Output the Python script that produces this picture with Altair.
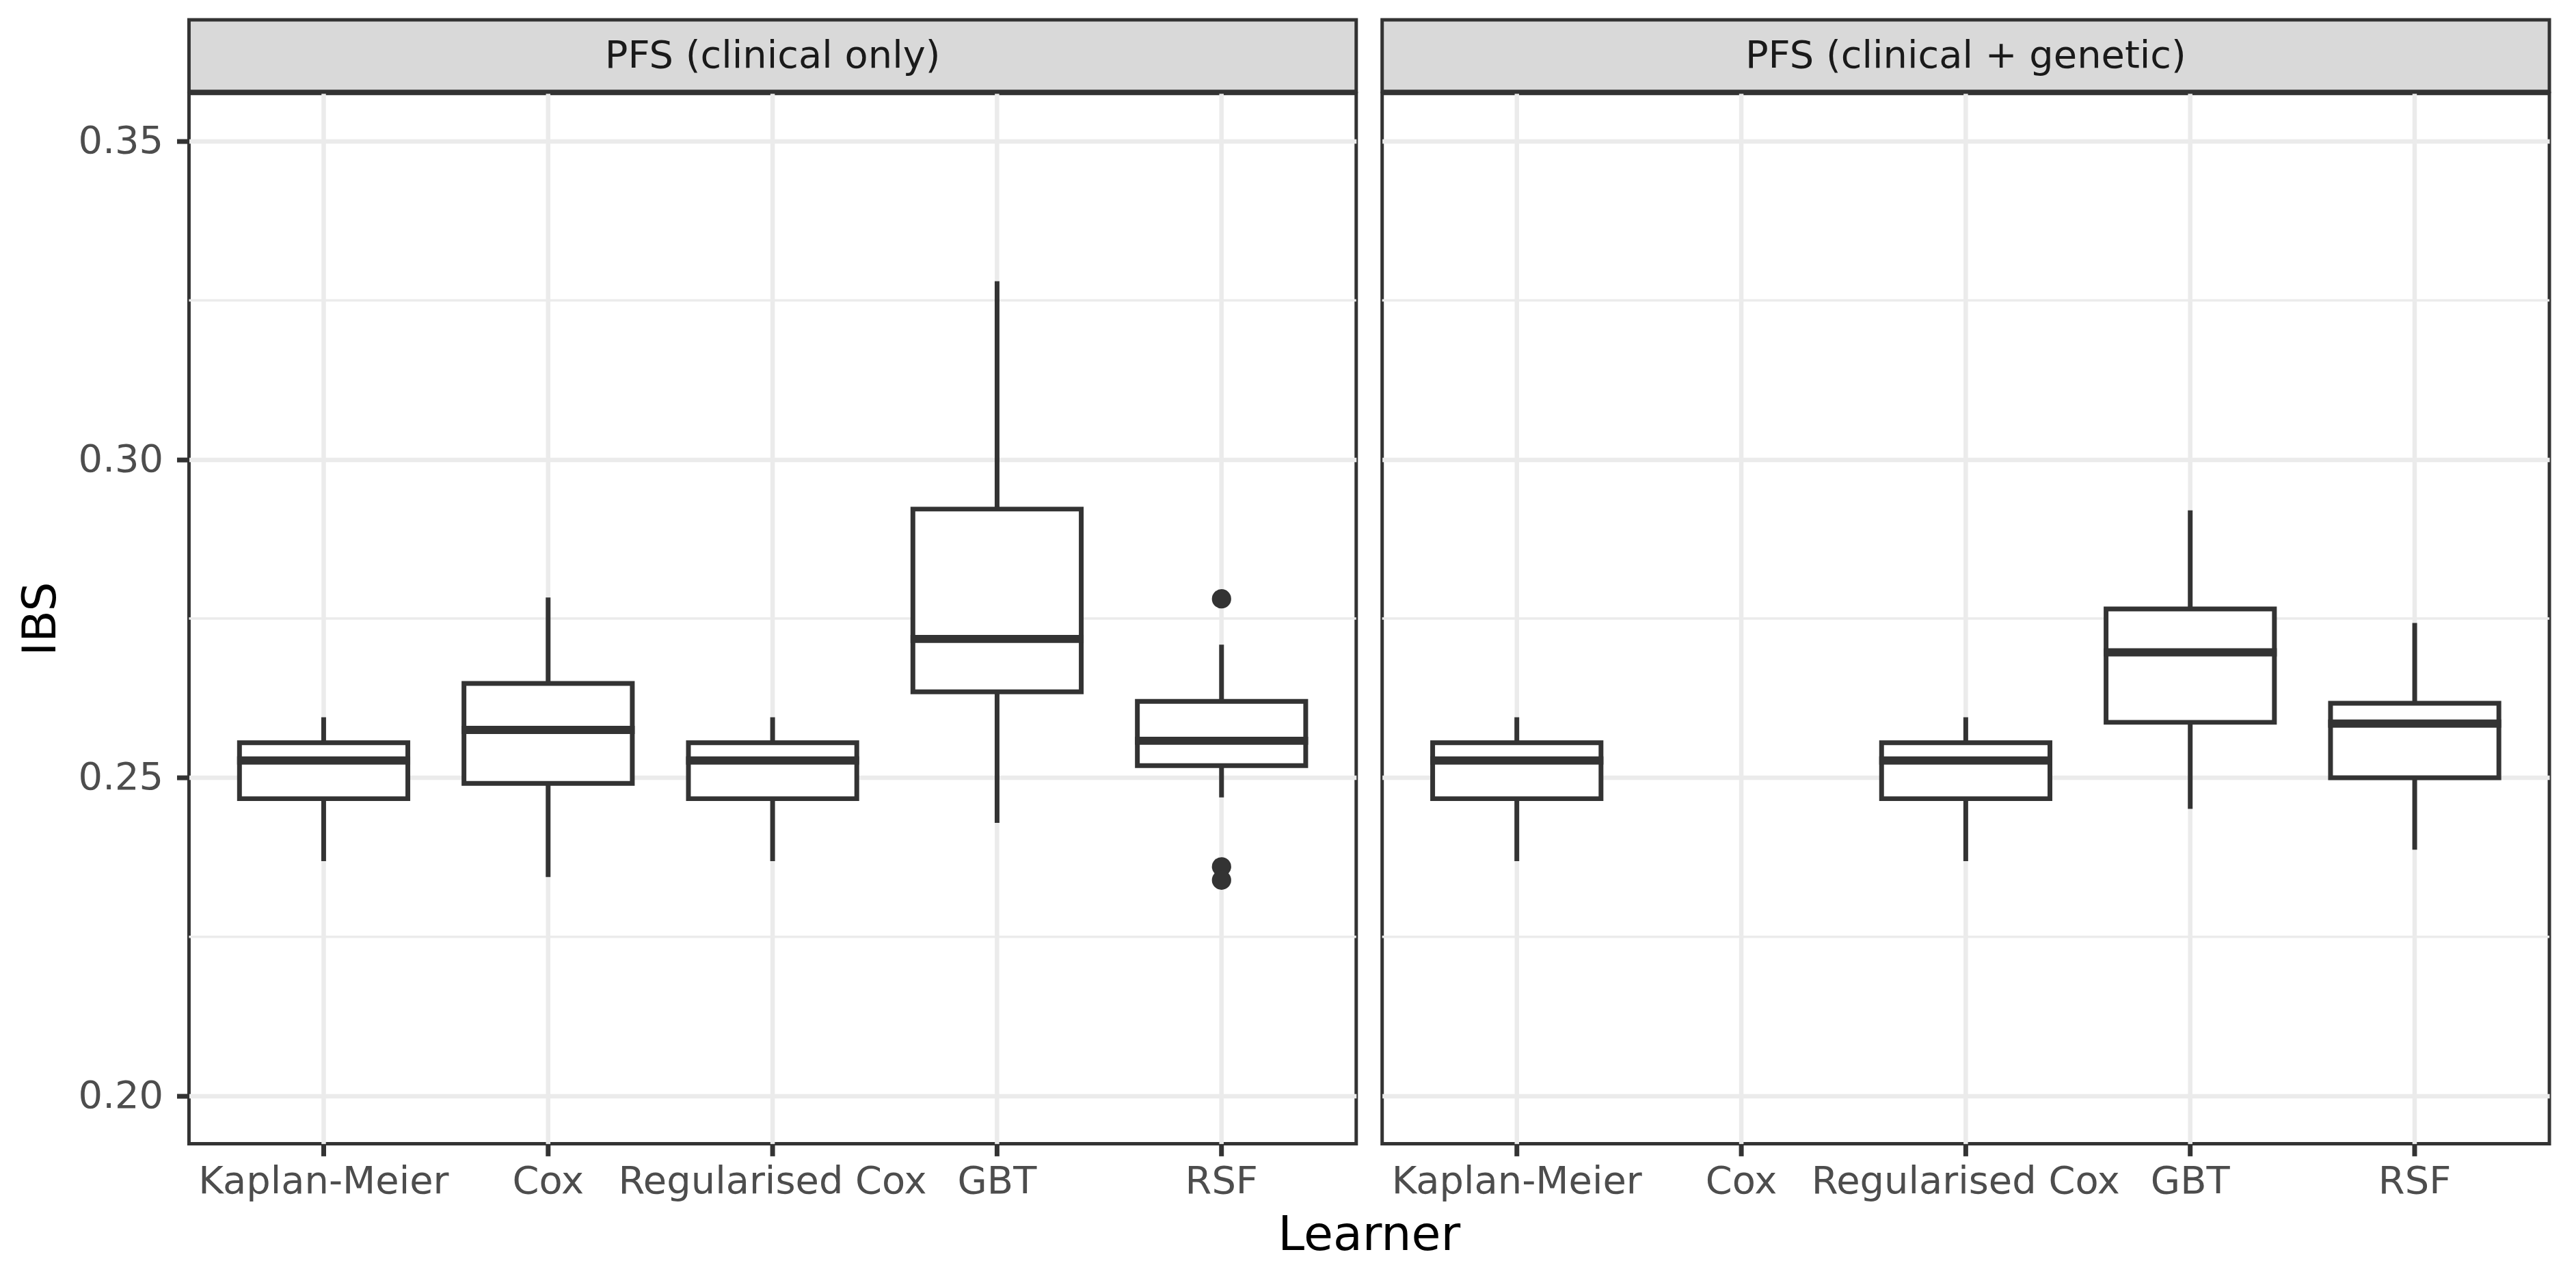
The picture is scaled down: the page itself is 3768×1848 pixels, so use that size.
import altair as alt
import pandas as pd

# ---------------- data ----------------
learners = ["Kaplan-Meier", "Cox", "Regularised Cox", "GBT", "RSF"]
panel_titles = ["PFS (clinical only)", "PFS (clinical + genetic)"]

# clinical only
clin_lower = [0.2369, 0.2344, 0.2369, 0.2429, 0.2469]
clin_q1 = [0.2467, 0.2491, 0.2467, 0.2635, 0.2519]
clin_median = [0.2527, 0.2575, 0.2527, 0.2718, 0.2558]
clin_q3 = [0.2555, 0.2648, 0.2555, 0.2922, 0.2620]
clin_upper = [0.2595, 0.2783, 0.2595, 0.3280, 0.2709]
clin_outlier_learner = ["RSF", "RSF", "RSF"]
clin_outlier_value = [0.2781, 0.2360, 0.2339]

# clinical + genetic (no Cox result)
gen_learners = ["Kaplan-Meier", "Regularised Cox", "GBT", "RSF"]
gen_lower = [0.2369, 0.2369, 0.2451, 0.2387]
gen_q1 = [0.2467, 0.2467, 0.2587, 0.2500]
gen_median = [0.2527, 0.2527, 0.2697, 0.2585]
gen_q3 = [0.2555, 0.2555, 0.2765, 0.2617]
gen_upper = [0.2595, 0.2595, 0.2920, 0.2743]

y_major = [0.20, 0.25, 0.30, 0.35]
y_minor = [0.225, 0.275, 0.325]
y_domain = [0.1925, 0.3575]

# ---------------- style ----------------
FONT = "DejaVu Sans"
DARK = "#333333"
GRID = "#EBEBEB"
STRIP = "#D9D9D9"
W, H = 1711, 1540
STRIP_H = 108
BOX_PX = 0.75 * W / 5.2
LW = 7


def make_panel(title, stats, outliers, left):
    xscale = alt.Scale(domain=learners, paddingInner=0, paddingOuter=0.1)
    yscale = alt.Scale(domain=y_domain, nice=False, zero=False)
    xaxis = alt.Axis(grid=True, gridColor=GRID, gridWidth=6.5, domain=False,
                     ticks=True, tickColor=DARK, tickWidth=LW, tickSize=18,
                     labelFont=FONT, labelFontSize=56, labelColor="#4D4D4D",
                     labelAngle=0, labelPadding=10, labelLimit=1000,
                     labelOverlap=False, title=None)
    if left:
        yaxis = alt.Axis(values=y_major, format=".2f", grid=True, gridColor=GRID,
                         gridWidth=6.5, domain=False, ticks=True, tickColor=DARK,
                         tickWidth=LW, tickSize=18, labelFont=FONT, labelFontSize=56,
                         labelColor="#4D4D4D", labelPadding=20, title="IBS",
                         titleFont=FONT, titleFontSize=68, titleFontWeight="normal",
                         titleColor="black", titlePadding=20)
    else:
        yaxis = alt.Axis(values=y_major, grid=True, gridColor=GRID, gridWidth=6.5,
                         domain=False, ticks=False, labels=False, title=None,
                         minExtent=0)

    X = alt.X("learner:N", scale=xscale, axis=xaxis)

    minor = alt.Chart(pd.DataFrame({"v": y_minor})).mark_rule(
        color=GRID, strokeWidth=3.5).encode(
        y=alt.Y("v:Q", scale=yscale, axis=yaxis))

    base = alt.Chart(stats)
    whisk = base.mark_rule(color=DARK, strokeWidth=LW).encode(
        x=X, y=alt.Y("lower:Q", scale=yscale, axis=yaxis), y2="upper:Q")
    box = base.mark_bar(width=alt.RelativeBandSize(0.75), fill="white",
                        stroke=DARK, strokeWidth=LW).encode(
        x=X, y=alt.Y("q1:Q", scale=yscale, axis=yaxis), y2="q3:Q")
    med = base.mark_tick(color=DARK, thickness=12, size=BOX_PX + LW, opacity=1).encode(
        x=X, y=alt.Y("median:Q", scale=yscale, axis=yaxis))

    strip_data = alt.Data(values=[{"t": title}])
    strip = alt.Chart(strip_data).mark_rect(
        fill=STRIP, stroke=DARK, strokeWidth=5).encode(
        x=alt.value(0), x2=alt.value(W), y=alt.value(-STRIP_H), y2=alt.value(-3))
    strip_text = alt.Chart(strip_data).mark_text(
        font=FONT, fontSize=56, color="#1A1A1A", align="center",
        baseline="middle").encode(
        x=alt.value(W / 2), y=alt.value(-STRIP_H / 2 - 1), text="t:N")

    layers = [minor, whisk, box, med]
    if outliers is not None and len(outliers):
        pts = alt.Chart(outliers).mark_circle(size=800, color=DARK, opacity=1).encode(
            x=X, y=alt.Y("value:Q", scale=yscale, axis=yaxis))
        layers.append(pts)
    layers += [strip, strip_text]
    if not left:
        lab = alt.Chart(alt.Data(values=[{"t": "Learner"}])).mark_text(
            font=FONT, fontSize=70, color="black", align="center",
            baseline="alphabetic").encode(
            x=alt.value(-19), y=alt.value(H + 156), text="t:N")
        layers.append(lab)
    return alt.layer(*layers).properties(
        width=W, height=H,
        view=alt.ViewBackground(stroke=DARK, strokeWidth=5, fill="white"))


clin = pd.DataFrame({"learner": learners, "lower": clin_lower, "q1": clin_q1,
                     "median": clin_median, "q3": clin_q3, "upper": clin_upper})
clin_out = pd.DataFrame({"learner": clin_outlier_learner, "value": clin_outlier_value})
gen = pd.DataFrame({"learner": gen_learners, "lower": gen_lower, "q1": gen_q1,
                    "median": gen_median, "q3": gen_q3, "upper": gen_upper})

left = make_panel(panel_titles[0], clin, clin_out, True)
right = make_panel(panel_titles[1], gen, None, False)

chart = alt.hconcat(left, right, spacing=38, bounds="flush").properties(
    padding={"left": 15, "top": 14, "right": 26, "bottom": 10},
    background="white",
)

chart.save("out.html", embed_options={"renderer": "svg", "actions": False})
